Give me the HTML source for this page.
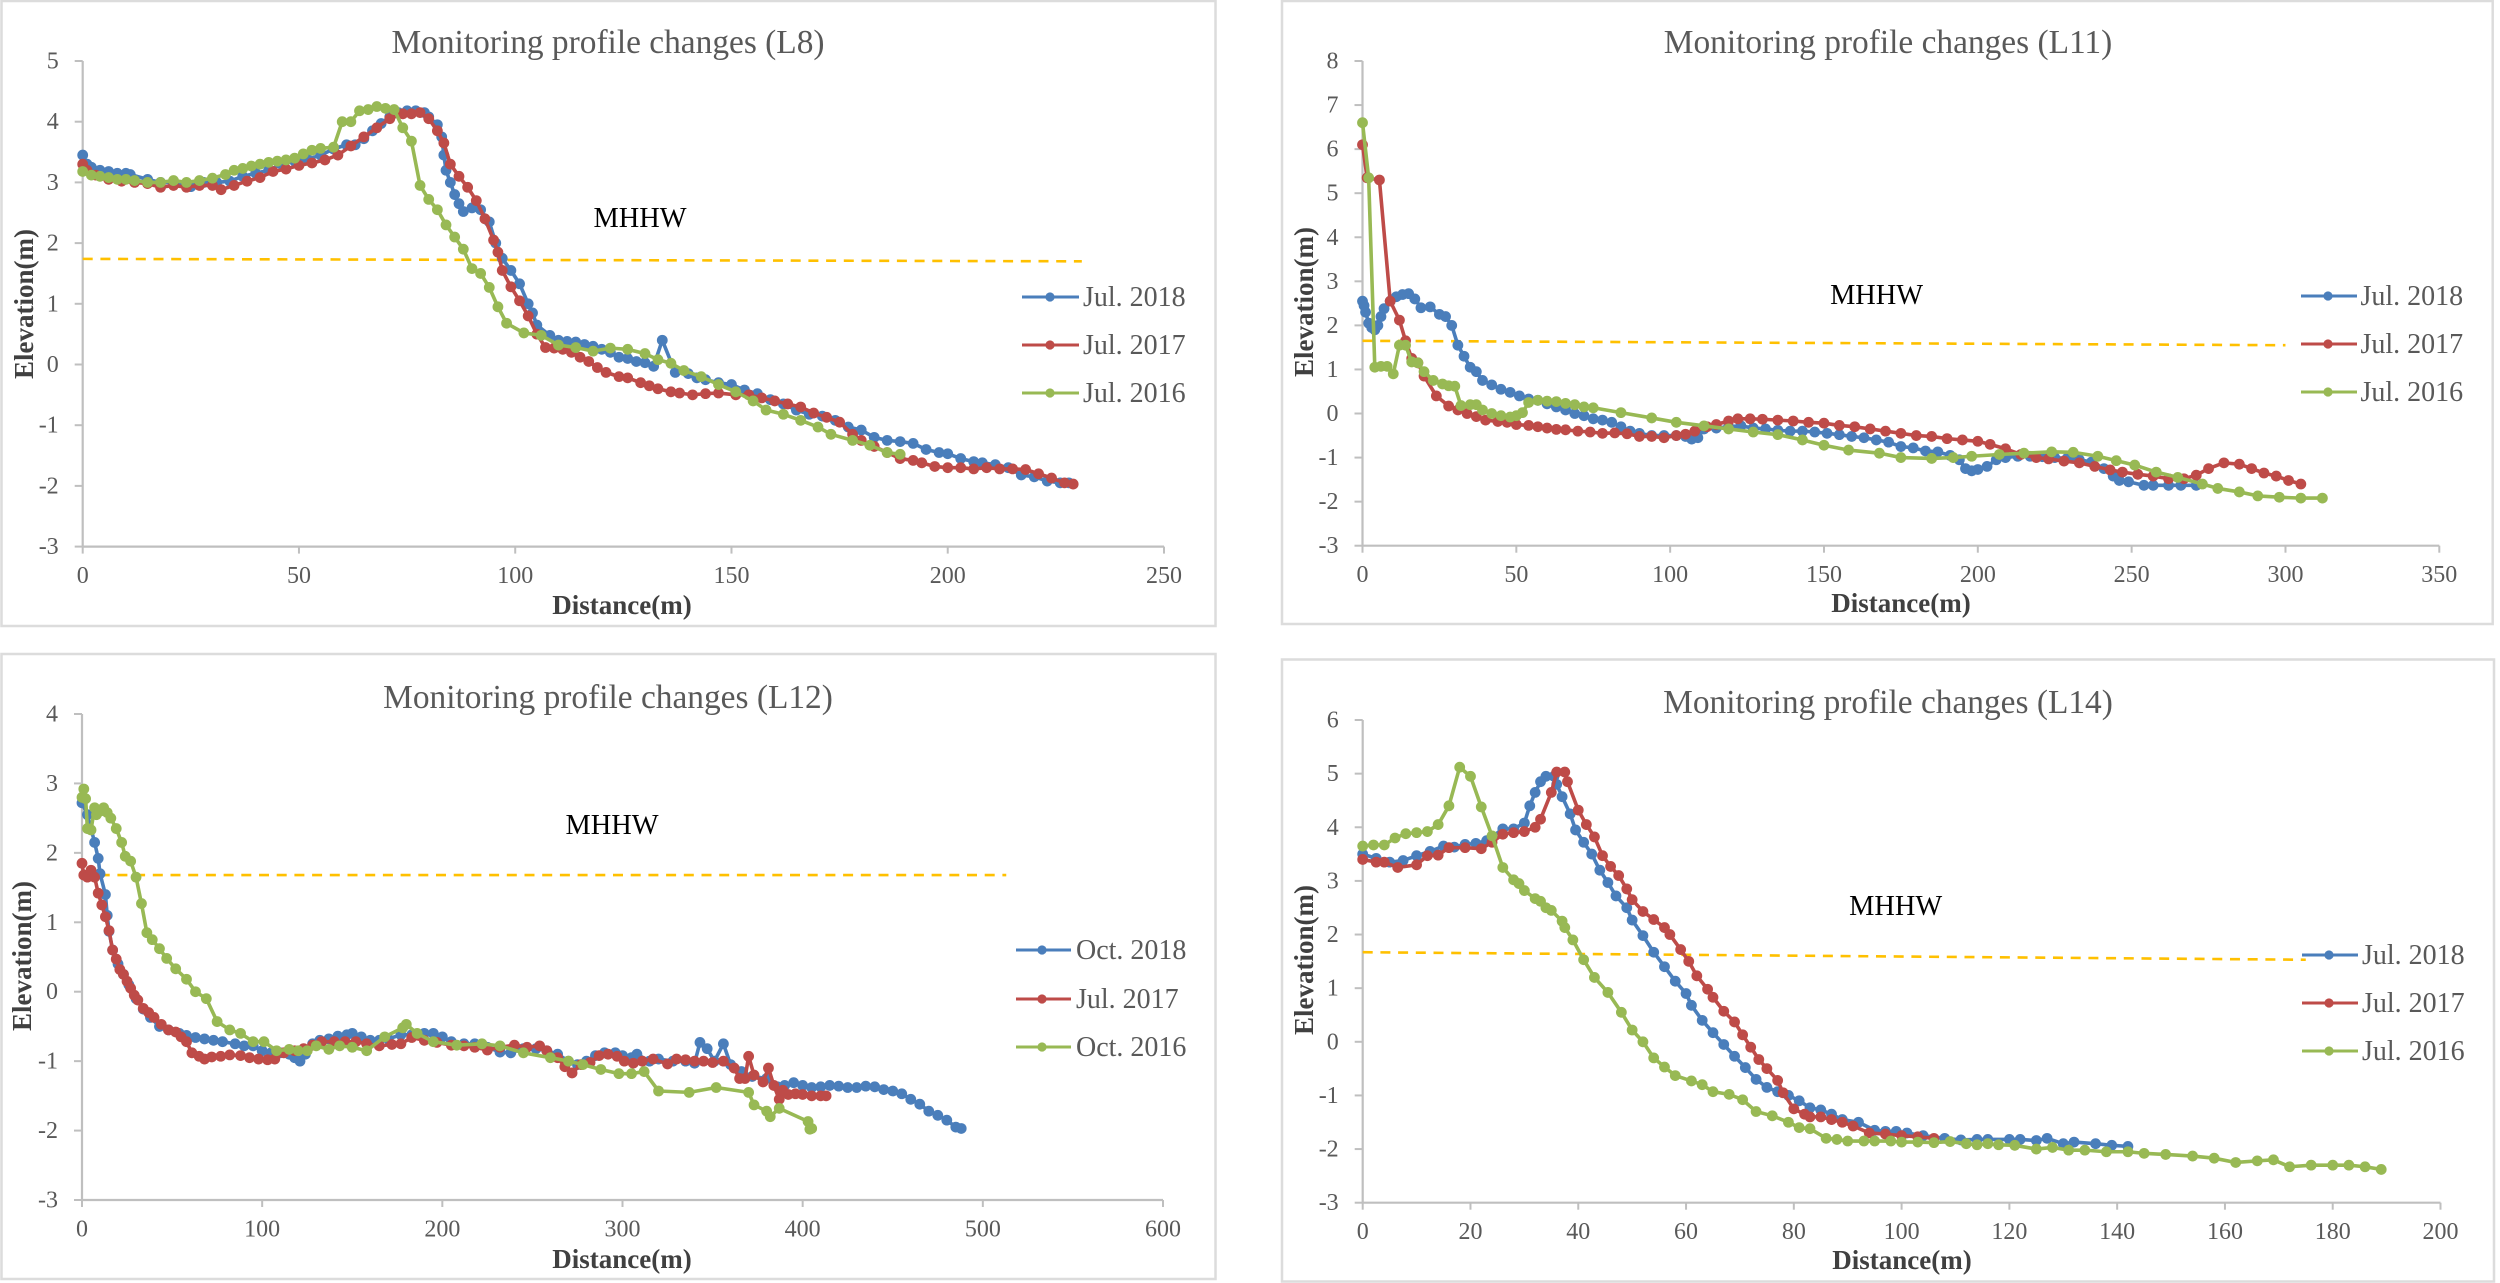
<!DOCTYPE html>
<html lang="en">
<head>
<meta charset="utf-8">
<title>Monitoring profile changes</title>
<style>
html,body{margin:0;padding:0;background:#fff;width:2500px;height:1283px;overflow:hidden}
svg{display:block;font-family:"Liberation Serif",serif}
.panel{fill:#fff;stroke:#dcdcdc;stroke-width:2.5}
.title{font-size:33.4px;fill:#595959;text-anchor:middle}
.axt{font-size:27px;font-weight:bold;fill:#404040;text-anchor:middle}
.mh{font-size:28.4px;fill:#000;text-anchor:middle}
.leg{font-size:28px;fill:#595959}
.tick{font-size:24px;fill:#595959}
</style>
</head>
<body>
<svg id="figure" xmlns="http://www.w3.org/2000/svg" width="2500" height="1283" viewBox="0 0 2500 1283">
  <rect x="0" y="0" width="2500" height="1283" fill="#fff"/>

  <g id="chart-l8">
    <rect class="panel" x="1.5" y="1" width="1214" height="625"/>
    <g id="l8-plot"></g>
    <text class="title" x="608" y="53">Monitoring profile changes (L8)</text>
    <text class="mh" x="640" y="227">MHHW</text>
    <text class="axt" x="622" y="614">Distance(m)</text>
    <text class="axt" transform="translate(33,304) rotate(-90)">Elevation(m)</text>
    <g><line x1="1022" x2="1079" y1="297" y2="297" stroke="#4a7ebb" stroke-width="3"/><circle cx="1050" cy="297" r="4.6" fill="#4a7ebb"/><text class="leg" x="1083" y="306">Jul. 2018</text></g>
    <g><line x1="1022" x2="1079" y1="345" y2="345" stroke="#be4b48" stroke-width="3"/><circle cx="1050" cy="345" r="4.6" fill="#be4b48"/><text class="leg" x="1083" y="354">Jul. 2017</text></g>
    <g><line x1="1022" x2="1079" y1="393" y2="393" stroke="#98b954" stroke-width="3"/><circle cx="1050" cy="393" r="4.6" fill="#98b954"/><text class="leg" x="1083" y="402">Jul. 2016</text></g>
  </g>

  <g id="chart-l11">
    <rect class="panel" x="1282" y="1" width="1210.7" height="623"/>
    <g id="l11-plot"></g>
    <text class="title" x="1888" y="53">Monitoring profile changes (L11)</text>
    <text class="mh" x="1876.6" y="304">MHHW</text>
    <text class="axt" x="1901" y="612">Distance(m)</text>
    <text class="axt" transform="translate(1313,302) rotate(-90)">Elevation(m)</text>
    <g><line x1="2301" x2="2357" y1="296" y2="296" stroke="#4a7ebb" stroke-width="3"/><circle cx="2328" cy="296" r="4.6" fill="#4a7ebb"/><text class="leg" x="2360.5" y="305">Jul. 2018</text></g>
    <g><line x1="2301" x2="2357" y1="344" y2="344" stroke="#be4b48" stroke-width="3"/><circle cx="2328" cy="344" r="4.6" fill="#be4b48"/><text class="leg" x="2360.5" y="353">Jul. 2017</text></g>
    <g><line x1="2301" x2="2357" y1="392" y2="392" stroke="#98b954" stroke-width="3"/><circle cx="2328" cy="392" r="4.6" fill="#98b954"/><text class="leg" x="2360.5" y="401">Jul. 2016</text></g>
  </g>

  <g id="chart-l12">
    <rect class="panel" x="1.5" y="654" width="1214" height="625"/>
    <g id="l12-plot"></g>
    <text class="title" x="608" y="708">Monitoring profile changes (L12)</text>
    <text class="mh" x="612" y="834">MHHW</text>
    <text class="axt" x="622" y="1268">Distance(m)</text>
    <text class="axt" transform="translate(31,956) rotate(-90)">Elevation(m)</text>
    <g><line x1="1016" x2="1071" y1="950" y2="950" stroke="#4a7ebb" stroke-width="3"/><circle cx="1042" cy="950" r="4.6" fill="#4a7ebb"/><text class="leg" x="1076" y="959">Oct. 2018</text></g>
    <g><line x1="1016" x2="1071" y1="999" y2="999" stroke="#be4b48" stroke-width="3"/><circle cx="1042" cy="999" r="4.6" fill="#be4b48"/><text class="leg" x="1076" y="1008">Jul. 2017</text></g>
    <g><line x1="1016" x2="1071" y1="1047" y2="1047" stroke="#98b954" stroke-width="3"/><circle cx="1042" cy="1047" r="4.6" fill="#98b954"/><text class="leg" x="1076" y="1056">Oct. 2016</text></g>
  </g>

  <g id="chart-l14">
    <rect class="panel" x="1282" y="659.5" width="1212" height="622"/>
    <g id="l14-plot"></g>
    <text class="title" x="1888" y="713">Monitoring profile changes (L14)</text>
    <text class="mh" x="1895.7" y="915">MHHW</text>
    <text class="axt" x="1902" y="1269">Distance(m)</text>
    <text class="axt" transform="translate(1313,960) rotate(-90)">Elevation(m)</text>
    <g><line x1="2302" x2="2358" y1="955" y2="955" stroke="#4a7ebb" stroke-width="3"/><circle cx="2329" cy="955" r="4.6" fill="#4a7ebb"/><text class="leg" x="2362" y="964">Jul. 2018</text></g>
    <g><line x1="2302" x2="2358" y1="1003" y2="1003" stroke="#be4b48" stroke-width="3"/><circle cx="2329" cy="1003" r="4.6" fill="#be4b48"/><text class="leg" x="2362" y="1012">Jul. 2017</text></g>
    <g><line x1="2302" x2="2358" y1="1051" y2="1051" stroke="#98b954" stroke-width="3"/><circle cx="2329" cy="1051" r="4.6" fill="#98b954"/><text class="leg" x="2362" y="1060">Jul. 2016</text></g>
  </g>
</svg>

<script>
// Tick labels
const l8XTicks = [0,50,100,150,200,250];
const l8YTicks = [-3,-2,-1,0,1,2,3,4,5];
const l11XTicks = [0,50,100,150,200,250,300,350];
const l11YTicks = [-3,-2,-1,0,1,2,3,4,5,6,7,8];
const l12XTicks = [0,100,200,300,400,500,600];
const l12YTicks = [-3,-2,-1,0,1,2,3,4];
const l14XTicks = [0,20,40,60,80,100,120,140,160,180,200];
const l14YTicks = [-3,-2,-1,0,1,2,3,4,5,6];

// MHHW reference lines [distance, elevation]
const l8Mhhw = [[0,1.74],[231,1.70]];
const l11Mhhw = [[0,1.65],[300,1.55]];
const l12Mhhw = [[0,1.68],[513,1.68]];
const l14Mhhw = [[0,1.67],[175,1.53]];

// L8 series [distance, elevation]
const l8Jul2018 = [[0,3.45],[1,3.3],[2,3.25],[4,3.2],[6,3.18],[8,3.15],[10,3.15],[11,3.13],[15,3.05],[18,3.0],[21,3.0],[25,2.93],[28,3.0],[31,3.0],[34,3.02],[37,3.1],[40,3.15],[43,3.2],[46,3.3],[49,3.35],[52,3.38],[55,3.45],[58,3.55],[61,3.62],[63,3.62],[65,3.72],[67,3.85],[69,3.97],[71,4.08],[73,4.15],[75,4.18],[77,4.18],[79,4.15],[80,4.08],[82,3.95],[83,3.75],[83.5,3.45],[84,3.2],[85,3.0],[86,2.8],[87,2.65],[88,2.52],[90,2.58],[92,2.55],[94,2.35],[95.5,2.0],[97,1.75],[99,1.55],[101,1.33],[103,1.0],[104,0.85],[105,0.65],[108,0.48],[110,0.4],[112,0.38],[114,0.37],[116,0.33],[118,0.3],[120,0.25],[122,0.2],[124,0.12],[126,0.1],[128,0.05],[130,0.03],[132,-0.03],[134,0.4],[137,-0.13],[140,-0.15],[142,-0.22],[144,-0.25],[147,-0.3],[150,-0.33],[153,-0.42],[156,-0.48],[159,-0.58],[162,-0.65],[165,-0.75],[168,-0.82],[171,-0.85],[174,-0.92],[177,-1.03],[180,-1.08],[183,-1.2],[186,-1.25],[189,-1.27],[192,-1.3],[195,-1.4],[198,-1.45],[200,-1.47],[203,-1.55],[206,-1.6],[208,-1.62],[211,-1.65],[214,-1.7],[217,-1.82],[220,-1.85],[223,-1.92],[226,-1.95],[228,-1.95]];
const l8Jul2017 = [[0,3.3],[1,3.2],[3,3.12],[6,3.05],[9,3.02],[12,3.0],[15,2.98],[18,2.92],[21,2.95],[24,2.92],[27,2.95],[30,2.95],[32,2.88],[35,2.95],[38,3.02],[41,3.08],[44,3.18],[47,3.22],[50,3.28],[53,3.32],[56,3.37],[59,3.45],[62,3.6],[65,3.75],[68,3.9],[71,4.05],[74,4.13],[76,4.13],[78,4.15],[80,4.05],[82,3.85],[83.5,3.65],[85,3.3],[87,3.1],[89,2.92],[91,2.7],[93,2.4],[95,2.05],[96,1.85],[97,1.55],[99,1.28],[101,1.05],[103,0.8],[105,0.5],[107,0.28],[109,0.27],[111,0.25],[113,0.2],[115,0.12],[117,0.05],[119,-0.05],[121,-0.13],[124,-0.2],[126,-0.22],[129,-0.3],[131,-0.35],[133,-0.4],[136,-0.45],[138,-0.47],[141,-0.5],[144,-0.48],[147,-0.47],[151,-0.5],[154,-0.5],[157,-0.55],[160,-0.6],[163,-0.65],[166,-0.7],[169,-0.8],[172,-0.87],[175,-0.95],[178,-1.15],[180,-1.25],[183,-1.35],[186,-1.45],[189,-1.55],[192,-1.58],[194,-1.62],[197,-1.68],[200,-1.7],[203,-1.7],[206,-1.72],[209,-1.7],[212,-1.72],[215,-1.72],[218,-1.73],[221,-1.8],[224,-1.87],[227,-1.95],[229,-1.97]];
const l8Jul2016 = [[0,3.18],[2,3.12],[4,3.1],[6,3.08],[8,3.05],[10,3.05],[12,3.03],[15,3.0],[18,3.0],[21,3.03],[24,3.0],[27,3.03],[30,3.07],[33,3.13],[35,3.2],[37,3.23],[39,3.27],[41,3.3],[43,3.33],[45,3.35],[47,3.37],[49,3.4],[51,3.47],[53,3.53],[55,3.56],[58,3.58],[60,4.0],[62,4.0],[64,4.18],[66,4.2],[68,4.25],[70,4.22],[72,4.2],[74,3.9],[76,3.68],[78,2.95],[80,2.72],[82,2.55],[84,2.3],[86,2.1],[88,1.9],[90,1.58],[92,1.5],[94,1.27],[96,0.95],[98,0.68],[102,0.52],[106,0.48],[110,0.32],[114,0.28],[118,0.22],[122,0.27],[126,0.25],[130,0.18],[133,0.08],[136,0.02],[139,-0.1],[143,-0.2],[147,-0.33],[151,-0.45],[155,-0.6],[158,-0.75],[162,-0.82],[166,-0.92],[170,-1.03],[173,-1.15],[178,-1.25],[182,-1.33],[186,-1.45],[189,-1.48]];

// L11 series [distance, elevation]
const l11Jul2018 = [[0,2.55],[0.5,2.45],[1,2.3],[2,2.05],[3,1.95],[4,1.9],[5,2.0],[6,2.2],[7,2.38],[9,2.55],[11,2.65],[13,2.7],[15,2.72],[17,2.6],[19,2.4],[22,2.42],[25,2.25],[27,2.2],[29,2.0],[31,1.55],[33,1.3],[35,1.05],[37,0.95],[39,0.75],[42,0.65],[45,0.55],[48,0.48],[51,0.4],[54,0.33],[57,0.3],[60,0.22],[63,0.15],[66,0.08],[69,0],[72,-0.05],[75,-0.12],[78,-0.15],[81,-0.2],[84,-0.3],[87,-0.4],[90,-0.45],[94,-0.5],[98,-0.5],[102,-0.5],[105,-0.52],[107,-0.58],[109,-0.55],[111,-0.35],[115,-0.33],[119,-0.3],[123,-0.28],[127,-0.33],[131,-0.35],[135,-0.38],[139,-0.4],[143,-0.4],[147,-0.42],[151,-0.45],[155,-0.48],[159,-0.52],[163,-0.55],[167,-0.6],[171,-0.65],[175,-0.75],[179,-0.78],[183,-0.85],[187,-0.87],[191,-0.95],[194,-1.05],[196,-1.25],[198,-1.3],[200,-1.27],[203,-1.2],[206,-1.05],[209,-1],[213,-0.97],[217,-0.97],[221,-0.98],[225,-1],[229,-1.02],[233,-1.05],[237,-1.1],[241,-1.25],[244,-1.42],[246,-1.52],[249,-1.55],[254,-1.63],[257,-1.63],[262,-1.63],[266,-1.63],[271,-1.63]];
const l11Jul2017 = [[0,6.1],[1.5,5.35],[5.5,5.3],[9,2.55],[12,2.12],[14,1.65],[16,1.25],[18,1.15],[20,0.85],[24,0.4],[28,0.17],[31,0.08],[34,0],[37,-0.07],[40,-0.15],[44,-0.18],[47,-0.2],[50,-0.25],[54,-0.27],[57,-0.3],[60,-0.33],[63,-0.36],[66,-0.37],[70,-0.4],[74,-0.42],[78,-0.45],[82,-0.44],[86,-0.46],[90,-0.52],[94,-0.52],[98,-0.55],[102,-0.5],[105,-0.47],[108,-0.4],[112,-0.3],[115,-0.25],[119,-0.17],[122,-0.12],[126,-0.12],[130,-0.13],[135,-0.15],[140,-0.17],[145,-0.2],[150,-0.22],[155,-0.27],[160,-0.3],[165,-0.35],[170,-0.4],[175,-0.45],[180,-0.5],[185,-0.52],[190,-0.57],[195,-0.6],[200,-0.63],[204,-0.7],[209,-0.8],[214,-0.93],[219,-1],[223,-1.03],[228,-1.08],[233,-1.12],[238,-1.2],[243,-1.28],[247,-1.33],[252,-1.38],[257,-1.42],[262,-1.48],[267,-1.48],[271,-1.4],[275,-1.25],[280,-1.12],[285,-1.15],[289,-1.25],[293,-1.35],[297,-1.42],[301,-1.52],[305,-1.6]];
const l11Jul2016 = [[0,6.6],[2,5.35],[4,1.05],[6,1.07],[8,1.07],[10,0.9],[12,1.55],[14,1.55],[16,1.17],[18,1.15],[20,0.95],[23,0.75],[26,0.67],[28,0.63],[30,0.62],[32,0.18],[35,0.2],[37,0.2],[39,0.08],[42,0],[45,-0.05],[48,-0.08],[50,-0.05],[52,0.02],[54,0.25],[57,0.3],[60,0.28],[63,0.27],[66,0.23],[69,0.2],[72,0.15],[75,0.13],[84,0.02],[94,-0.1],[102,-0.2],[111,-0.28],[119,-0.35],[127,-0.42],[135,-0.48],[143,-0.6],[150,-0.72],[158,-0.83],[168,-0.9],[175,-1],[185,-1.02],[192,-1],[198,-0.97],[207,-0.93],[215,-0.9],[224,-0.87],[231,-0.88],[239,-0.97],[245,-1.07],[251,-1.17],[258,-1.33],[265,-1.45],[273,-1.6],[278,-1.7],[285,-1.78],[291,-1.87],[298,-1.9],[305,-1.92],[312,-1.92]];

// L12 series [distance, elevation]
const l12Oct2018 = [[0,2.72],[3,2.55],[7,2.15],[9,1.92],[10,1.7],[13,1.4],[14,1.1],[15,0.87],[17,0.6],[20,0.4],[23,0.25],[26,0.1],[30,-0.1],[34,-0.25],[38,-0.37],[43,-0.5],[48,-0.55],[54,-0.6],[58,-0.63],[63,-0.66],[68,-0.68],[73,-0.7],[78,-0.72],[85,-0.75],[90,-0.78],[95,-0.78],[100,-0.85],[105,-0.88],[110,-0.88],[115,-0.9],[118,-0.95],[121,-1.0],[124,-0.9],[128,-0.75],[132,-0.7],[137,-0.68],[142,-0.64],[147,-0.62],[150,-0.6],[155,-0.65],[160,-0.7],[165,-0.7],[170,-0.68],[177,-0.62],[183,-0.62],[190,-0.6],[195,-0.6],[200,-0.65],[205,-0.72],[212,-0.75],[218,-0.75],[225,-0.8],[232,-0.87],[238,-0.88],[245,-0.82],[252,-0.82],[258,-0.85],[264,-0.9],[270,-1],[275,-1.05],[280,-1],[285,-0.92],[290,-0.88],[296,-0.88],[300,-0.92],[305,-0.95],[308,-0.9],[315,-1],[320,-0.97],[328,-1],[335,-1],[340,-1.03],[343,-0.73],[347,-0.82],[351,-1.0],[356,-0.75],[360,-1.05],[366,-1.15],[372,-1.22],[380,-1.25],[386,-1.37],[390,-1.35],[395,-1.31],[400,-1.35],[405,-1.38],[410,-1.37],[415,-1.35],[420,-1.36],[425,-1.38],[430,-1.38],[435,-1.36],[440,-1.37],[445,-1.41],[450,-1.43],[455,-1.47],[460,-1.55],[465,-1.62],[470,-1.72],[475,-1.78],[480,-1.85],[485,-1.95],[488,-1.97]];
const l12Jul2017 = [[0,1.85],[1,1.68],[3,1.65],[5,1.75],[7,1.65],[9,1.42],[11,1.25],[13,1.08],[15,0.88],[17,0.6],[19,0.47],[21,0.32],[23,0.25],[25,0.15],[27,0.05],[29,-0.05],[31,-0.12],[34,-0.24],[37,-0.3],[40,-0.37],[44,-0.47],[48,-0.55],[52,-0.58],[55,-0.65],[58,-0.72],[61,-0.88],[65,-0.93],[68,-0.97],[72,-0.94],[77,-0.93],[82,-0.91],[88,-0.92],[93,-0.95],[98,-0.97],[103,-0.98],[107,-0.97],[112,-0.88],[118,-0.85],[123,-0.82],[128,-0.77],[133,-0.72],[140,-0.72],[146,-0.72],[152,-0.72],[158,-0.75],[165,-0.78],[172,-0.76],[177,-0.75],[183,-0.66],[190,-0.7],[197,-0.73],[205,-0.77],[212,-0.78],[218,-0.8],[225,-0.84],[232,-0.8],[240,-0.77],[247,-0.8],[254,-0.78],[258,-0.85],[264,-0.95],[268,-1.08],[272,-1.17],[277,-1.05],[282,-1.02],[287,-0.92],[292,-0.9],[297,-0.93],[301,-1],[306,-1.03],[311,-1],[317,-0.97],[325,-1.04],[330,-0.97],[335,-0.98],[340,-1],[345,-1],[350,-1.02],[356,-1.0],[362,-1.1],[365,-1.25],[368,-1.25],[370,-0.93],[373,-1.2],[378,-1.3],[381,-1.1],[384,-1.35],[387,-1.55],[389,-1.42],[392,-1.48],[396,-1.47],[400,-1.48],[405,-1.5],[410,-1.5],[413,-1.5]];
const l12Oct2016 = [[0,2.8],[1,2.92],[2,2.78],[3,2.35],[5,2.33],[7,2.65],[8,2.55],[10,2.6],[12,2.65],[14,2.58],[16,2.5],[19,2.35],[22,2.15],[24,1.95],[27,1.88],[30,1.65],[33,1.27],[36,0.85],[39,0.75],[43,0.62],[47,0.48],[52,0.33],[58,0.18],[63,0],[69,-0.1],[75,-0.43],[82,-0.55],[88,-0.6],[95,-0.72],[101,-0.72],[108,-0.85],[115,-0.83],[120,-0.85],[125,-0.85],[130,-0.78],[137,-0.83],[143,-0.78],[150,-0.8],[158,-0.85],[168,-0.65],[178,-0.52],[180,-0.47],[186,-0.6],[195,-0.72],[208,-0.77],[222,-0.75],[232,-0.78],[245,-0.88],[260,-0.95],[270,-1.0],[278,-1.05],[288,-1.12],[298,-1.18],[305,-1.18],[312,-1.15],[320,-1.43],[337,-1.45],[352,-1.38],[370,-1.45],[373,-1.63],[380,-1.72],[382,-1.8],[387,-1.68],[403,-1.87],[404,-1.98],[405,-1.97]];

// L14 series [distance, elevation]
const l14Jul2018 = [[0,3.5],[2.5,3.42],[5,3.35],[7.5,3.38],[10,3.47],[12.5,3.55],[15,3.65],[17,3.63],[19,3.68],[21,3.7],[23,3.75],[24,3.82],[26,3.97],[28,3.97],[30,4.08],[31,4.4],[32,4.65],[33,4.85],[34,4.95],[35.5,4.95],[36,4.8],[37,4.57],[38.5,4.25],[39.5,3.95],[41,3.72],[42.5,3.5],[44,3.2],[45.5,2.97],[47,2.72],[49,2.5],[50,2.27],[52,1.98],[54,1.67],[56,1.4],[58,1.13],[60,0.9],[61,0.68],[63,0.4],[65,0.17],[67,-0.05],[69,-0.27],[71,-0.48],[73,-0.7],[75,-0.85],[77,-0.93],[79,-1.0],[81,-1.1],[83,-1.23],[85,-1.27],[87,-1.35],[89,-1.45],[92,-1.5],[95,-1.65],[97,-1.67],[99,-1.67],[101,-1.7],[104,-1.75],[108,-1.8],[111,-1.83],[114,-1.82],[116,-1.82],[120,-1.82],[122,-1.82],[125,-1.84],[127,-1.8],[130,-1.9],[132,-1.87],[136,-1.9],[139,-1.93],[142,-1.95]];
const l14Jul2017 = [[0,3.4],[2.5,3.35],[4,3.35],[6.5,3.25],[10,3.3],[12,3.47],[14,3.48],[16,3.62],[19,3.62],[22,3.6],[24,3.72],[26,3.87],[28,3.9],[30,3.92],[32,4.0],[33,4.15],[35,4.65],[36,5.03],[37.5,5.03],[38,4.85],[40,4.32],[41.5,4.05],[43,3.82],[44.5,3.47],[46,3.27],[47.5,3.1],[49,2.85],[50,2.65],[52,2.43],[54,2.28],[56,2.13],[57,2.0],[59,1.72],[60.5,1.5],[62,1.23],[64,0.98],[65,0.83],[67,0.57],[69,0.37],[70.5,0.13],[72,-0.1],[73.5,-0.33],[75,-0.5],[77,-0.72],[78,-0.95],[80,-1.25],[82,-1.35],[83,-1.4],[85,-1.4],[87,-1.45],[89,-1.5],[91,-1.57],[94,-1.7],[97,-1.72],[100,-1.75],[103,-1.77],[106,-1.8]];
const l14Jul2016 = [[0,3.65],[2,3.67],[4,3.67],[6,3.8],[8,3.88],[10,3.9],[12,3.92],[14,4.05],[16,4.4],[18,5.12],[20,4.95],[22,4.38],[24,3.84],[26,3.25],[28,3.02],[29,2.95],[30,2.82],[32,2.67],[33,2.62],[34,2.5],[35,2.45],[37,2.25],[37.5,2.13],[39,1.9],[41,1.53],[43,1.2],[45.5,0.92],[48,0.55],[50,0.22],[52,0],[54,-0.3],[56,-0.47],[58,-0.63],[61,-0.73],[63,-0.8],[65,-0.93],[68,-0.98],[70.5,-1.08],[73,-1.3],[76,-1.38],[79,-1.5],[81,-1.6],[83,-1.62],[86,-1.8],[88,-1.82],[90,-1.85],[93,-1.85],[95,-1.85],[98,-1.85],[100,-1.87],[103,-1.87],[106,-1.88],[109,-1.86],[112,-1.9],[114,-1.92],[116,-1.9],[118,-1.92],[121,-1.93],[125,-2.0],[128,-1.97],[131,-2.02],[134,-2.02],[138,-2.05],[142,-2.05],[145,-2.08],[149,-2.1],[154,-2.13],[158,-2.17],[162,-2.25],[166,-2.22],[169,-2.2],[172,-2.33],[176,-2.3],[180,-2.3],[183,-2.3],[186,-2.33],[189,-2.38]];

const NS = 'http://www.w3.org/2000/svg';
const BLUE = '#4a7ebb', RED = '#be4b48', GREEN = '#98b954', AXIS = '#bfbfbf', DASH = '#ffc000';

function make(tag, attrs, parent) {
  const el = document.createElementNS(NS, tag);
  for (const k in attrs) el.setAttribute(k, attrs[k]);
  parent.appendChild(el);
  return el;
}

function drawChart(id, box, xTicks, yTicks, mhhw, seriesList) {
  const g = document.getElementById(id + '-plot');
  const xMin = xTicks[0], xMax = xTicks[xTicks.length - 1];
  const yMin = yTicks[0], yMax = yTicks[yTicks.length - 1];
  const xScale = v => box.left + (v - xMin) / (xMax - xMin) * (box.right - box.left);
  const yScale = v => box.bottom - (v - yMin) / (yMax - yMin) * (box.bottom - box.top);

  const yAxis = make('line', {x1: box.left, x2: box.left, y1: box.top, y2: box.bottom, stroke: AXIS, 'stroke-width': 2.2}, g);
  
  
  const xAxis = make('line', {x1: box.left, x2: box.right, y1: box.bottom, y2: box.bottom, stroke: AXIS, 'stroke-width': 2.2}, g);
  
  

  xTicks.forEach(t => {
    const x = xScale(t);
    make('line', {x1: x, x2: x, y1: box.bottom, y2: box.bottom + 7, stroke: AXIS, 'stroke-width': 2}, g);
    const label = make('text', {x: x, y: box.bottom + 36.5, class: 'tick', 'text-anchor': 'middle'}, g);
    label.textContent = t;
    
    
  });
  yTicks.forEach(t => {
    const y = yScale(t);
    make('line', {x1: box.left - 8, x2: box.left, y1: y, y2: y, stroke: AXIS, 'stroke-width': 2}, g);
    const label = make('text', {x: box.left - 24, y: y + 7.5, class: 'tick', 'text-anchor': 'end'}, g);
    label.textContent = t;
    
    
  });

  const ref = make('polyline', {
    points: mhhw.map(p => xScale(p[0]) + ',' + yScale(p[1])).join(' '),
    fill: 'none', stroke: DASH, 'stroke-width': 2.6, 'stroke-dasharray': '10 7.7'
  }, g);
  
  

  seriesList.forEach(s => {
    const sg = make('g', {}, g);
    
    
    make('polyline', {
      points: s.data.map(p => xScale(p[0]) + ',' + yScale(p[1])).join(' '),
      fill: 'none', stroke: s.color, 'stroke-width': 3.6, 'stroke-linejoin': 'round'
    }, sg);
    s.data.forEach(p => {
      const pt = make('circle', {cx: xScale(p[0]), cy: yScale(p[1]), r: 5.4, fill: s.color}, sg);
      
      
    });
  });
}

drawChart('l8', {left: 82.7, right: 1164, top: 61, bottom: 546.6}, l8XTicks, l8YTicks, l8Mhhw, [
  {name: 'jul-2018', color: BLUE, data: l8Jul2018},
  {name: 'jul-2017', color: RED, data: l8Jul2017},
  {name: 'jul-2016', color: GREEN, data: l8Jul2016}
]);
drawChart('l11', {left: 1362.5, right: 2439.3, top: 61, bottom: 545.7}, l11XTicks, l11YTicks, l11Mhhw, [
  {name: 'jul-2018', color: BLUE, data: l11Jul2018},
  {name: 'jul-2017', color: RED, data: l11Jul2017},
  {name: 'jul-2016', color: GREEN, data: l11Jul2016}
]);
drawChart('l12', {left: 82, right: 1163, top: 714, bottom: 1200}, l12XTicks, l12YTicks, l12Mhhw, [
  {name: 'oct-2018', color: BLUE, data: l12Oct2018},
  {name: 'jul-2017', color: RED, data: l12Jul2017},
  {name: 'oct-2016', color: GREEN, data: l12Oct2016}
]);
drawChart('l14', {left: 1362.7, right: 2440.5, top: 720, bottom: 1202.7}, l14XTicks, l14YTicks, l14Mhhw, [
  {name: 'jul-2018', color: BLUE, data: l14Jul2018},
  {name: 'jul-2017', color: RED, data: l14Jul2017},
  {name: 'jul-2016', color: GREEN, data: l14Jul2016}
]);
</script>
</body>
</html>
